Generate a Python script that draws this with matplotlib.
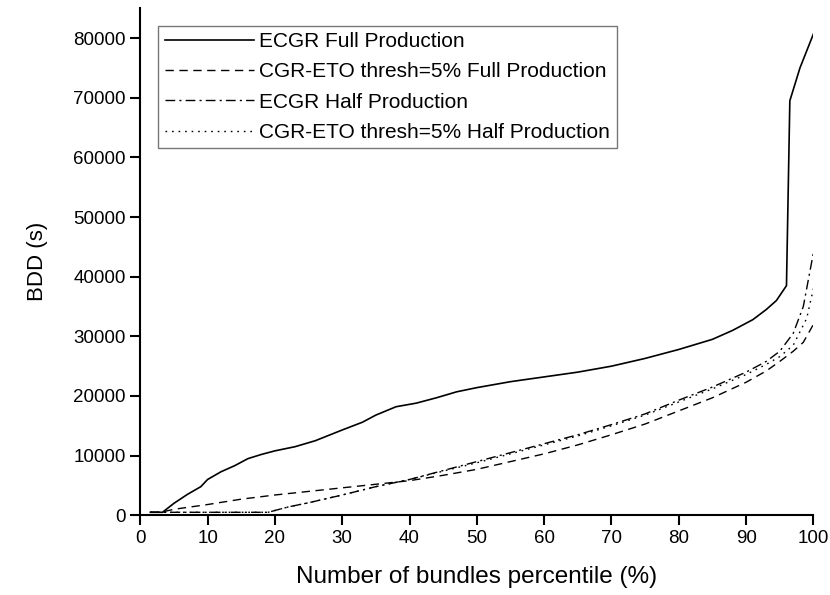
import matplotlib.pyplot as plt
import numpy as np

plt.rcParams['font.family'] = ['Liberation Sans', 'DejaVu Sans']

# ECGR, produccion completa
x_ecgr_full = [1.5, 3.3, 5, 7, 9, 10, 12, 14, 16, 18, 20, 23, 26, 30, 33, 35, 38, 41,
               44, 47, 50, 55, 60, 65, 70, 75, 80, 85, 88, 91, 93, 94.5, 96, 96.5, 98, 100]
y_ecgr_full = [500, 500, 2000, 3500, 4800, 6000, 7300, 8300, 9500, 10200, 10800, 11500,
               12500, 14300, 15600, 16800, 18200, 18800, 19700, 20700, 21400, 22400,
               23200, 24000, 25000, 26300, 27800, 29500, 31000, 32800, 34500, 36000,
               38500, 69500, 75000, 80700]

# CGR-ETO thresh=5%, produccion completa
x_cgr_full = [1.5, 3, 5, 10, 15, 20, 25, 30, 35, 40, 45, 50, 55, 60, 65, 70, 75, 80,
              85, 90, 93, 95, 97, 98.5, 100]
y_cgr_full = [500, 500, 1000, 1800, 2700, 3400, 4000, 4600, 5200, 5800, 6700, 7700,
              9000, 10300, 11800, 13500, 15300, 17500, 19700, 22300, 24200, 25800,
              27500, 29000, 32000]

# ECGR, media produccion
x_ecgr_half = [1.5, 10, 19, 20, 22, 25, 30, 35, 40, 45, 50, 55, 60, 65, 70, 75, 80,
               85, 90, 93, 95, 97, 98.5, 100]
y_ecgr_half = [500, 500, 500, 800, 1400, 2100, 3400, 4800, 6000, 7500, 9000, 10500,
               12000, 13500, 15200, 17000, 19300, 21500, 24000, 25800, 27500, 30500,
               35000, 44000]

# CGR-ETO thresh=5%, media produccion
x_cgr_half = [1.5, 10, 19, 20, 22, 25, 30, 35, 40, 45, 50, 55, 60, 65, 70, 75, 80,
              85, 90, 93, 95, 97, 99, 100]
y_cgr_half = [500, 500, 500, 800, 1400, 2100, 3400, 4800, 6000, 7400, 8800, 10300,
              11800, 13300, 15000, 16800, 19000, 21200, 23600, 25300, 26600, 28500,
              33000, 38000]

fig = plt.figure(figsize=(8.3, 5.95), dpi=100)
ax = fig.add_axes([0.169, 0.134, 0.811, 0.852])

ax.plot(x_ecgr_full, y_ecgr_full, color='black', lw=1.2, ls='-',
        label='ECGR Full Production')
ax.plot(x_cgr_full, y_cgr_full, color='black', lw=1.0, ls=(0, (6, 4)),
        label='CGR-ETO thresh=5% Full Production')
ax.plot(x_ecgr_half, y_ecgr_half, color='black', lw=1.0, ls=(0, (7, 3, 1.5, 3)),
        label='ECGR Half Production')
ax.plot(x_cgr_half, y_cgr_half, color='black', lw=1.0, ls=(0, (1.2, 3.5)),
        label='CGR-ETO thresh=5% Half Production')

ax.set_xlim(0, 100)
ax.set_ylim(0, 85000)
ax.set_xticks(np.arange(0, 101, 10))
ax.set_yticks(np.arange(0, 80001, 10000))
ax.spines['top'].set_visible(False)
ax.spines['right'].set_visible(False)
ax.spines['left'].set_linewidth(1.5)
ax.spines['bottom'].set_linewidth(1.5)
ax.tick_params(direction='out', length=7, width=1.5, labelsize=13.5)

ax.set_xlabel('Number of bundles percentile (%)', fontsize=17.5, labelpad=14)
ax.set_ylabel('BDD (s)', fontsize=16, labelpad=18)

leg = ax.legend(loc='upper left', bbox_to_anchor=(0.027, 0.966), fontsize=15,
                frameon=True, fancybox=False, handlelength=4.3, handletextpad=0.25,
                borderpad=0.3, labelspacing=0.55, borderaxespad=0)
leg.get_frame().set_edgecolor('#555555')
leg.get_frame().set_linewidth(1.0)

plt.savefig('out.png', dpi=100)
